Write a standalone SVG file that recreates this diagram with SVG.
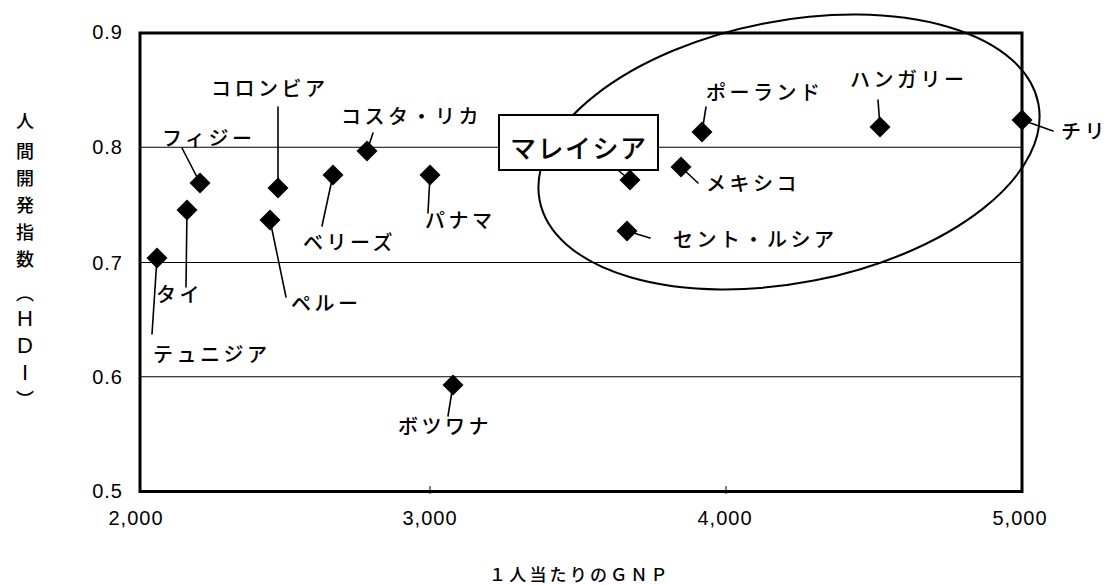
<svg xmlns="http://www.w3.org/2000/svg" width="1108" height="585" viewBox="0 0 1108 585">
<style>
.lbl{font-family:"Noto Sans CJK JP","Noto Sans CJK SC",sans-serif;font-size:20px;font-weight:500;letter-spacing:3.5px;fill:#000;dominant-baseline:central}
.num{font-family:"Liberation Sans",Arial,sans-serif;font-size:20px;letter-spacing:1px;fill:#000}
.ttl{font-family:"Noto Sans CJK JP","Noto Sans CJK SC",sans-serif;font-size:18px;font-weight:500;fill:#000;dominant-baseline:central;text-anchor:middle}
.grid{stroke:#000;stroke-width:1;fill:none}
.lead{stroke:#000;stroke-width:1.6;fill:none;stroke-linecap:round}
</style>
<defs>
<path id="dia" d="M0,-10.5 L10.5,0 L0,10.5 L-10.5,0 Z"/>
</defs>
<rect x="0" y="0" width="1108" height="585" fill="#fff"/>
<g id="plot">
<line class="grid" x1="140" y1="147.25" x2="1022" y2="147.25"/>
<line class="grid" x1="140" y1="262.5" x2="1022" y2="262.5"/>
<line class="grid" x1="140" y1="376.75" x2="1022" y2="376.75"/>
<line class="grid" x1="430" y1="486" x2="430" y2="494"/>
<line class="grid" x1="726" y1="486" x2="726" y2="494"/>
<rect x="140" y="33" width="882" height="458.5" fill="none" stroke="#000" stroke-width="3"/>
</g>
<g id="axis-labels">
<text class="num" x="123" y="39" text-anchor="end">0.9</text>
<text class="num" x="123" y="154" text-anchor="end">0.8</text>
<text class="num" x="123" y="269.5" text-anchor="end">0.7</text>
<text class="num" x="123" y="383.5" text-anchor="end">0.6</text>
<text class="num" x="123" y="498" text-anchor="end">0.5</text>
<text class="num" x="136" y="525" text-anchor="middle">2,000</text>
<text class="num" x="430" y="525" text-anchor="middle">3,000</text>
<text class="num" x="725" y="525" text-anchor="middle">4,000</text>
<text class="num" x="1020" y="525" text-anchor="middle">5,000</text>
<text class="ttl" x="489" y="573" style="text-anchor:start;letter-spacing:3.2px;font-size:17px">１人当たりのＧＮＰ</text>
<text class="ttl" x="25" y="120">人</text>
<text class="ttl" x="25" y="150">間</text>
<text class="ttl" x="25" y="177">開</text>
<text class="ttl" x="25" y="204">発</text>
<text class="ttl" x="25" y="231">指</text>
<text class="ttl" x="25" y="258">数</text>
<text class="ttl" x="25" y="292">︵</text>
<text class="num" x="25" y="326" text-anchor="middle" style="font-size:22px;letter-spacing:0">H</text>
<text class="num" x="25" y="353" text-anchor="middle" style="font-size:22px;letter-spacing:0">D</text>
<text class="num" x="25" y="380" text-anchor="middle" style="font-size:22px;letter-spacing:0">I</text>
<text class="ttl" x="25" y="398">︶</text>
</g>
<ellipse id="group-ellipse" cx="789" cy="152" rx="254" ry="131" transform="rotate(-11 789 152)" fill="none" stroke="#000" stroke-width="2"/>
<g id="connectors">
<line class="lead" x1="157" y1="258" x2="152" y2="334"/>
<line class="lead" x1="187" y1="210" x2="186" y2="287"/>
<line class="lead" x1="200" y1="183" x2="182" y2="148"/>
<line class="lead" x1="278" y1="188" x2="278" y2="107"/>
<line class="lead" x1="270" y1="220" x2="286" y2="297"/>
<line class="lead" x1="333" y1="175" x2="322" y2="226"/>
<line class="lead" x1="367" y1="151" x2="373" y2="133"/>
<line class="lead" x1="430" y1="175" x2="428" y2="213"/>
<line class="lead" x1="619" y1="171" x2="630" y2="180"/>
<line class="lead" x1="702" y1="132" x2="706" y2="107"/>
<line class="lead" x1="681" y1="167" x2="698" y2="183"/>
<line class="lead" x1="627" y1="231" x2="650" y2="238"/>
<line class="lead" x1="880" y1="127" x2="878" y2="100"/>
<line class="lead" x1="1022" y1="120" x2="1053" y2="131"/>
<line class="lead" x1="453" y1="385" x2="448" y2="416"/>
</g>
<g id="tunisia"><use href="#dia" x="157" y="258"/><text class="lbl" x="153" y="353">テュニジア</text></g>
<g id="thailand"><use href="#dia" x="187" y="210"/><text class="lbl" x="156" y="293">タイ</text></g>
<g id="fiji"><use href="#dia" x="200" y="183"/><text class="lbl" x="162" y="137">フィジー</text></g>
<g id="colombia"><use href="#dia" x="278" y="188"/><text class="lbl" x="211" y="87">コロンビア</text></g>
<g id="peru"><use href="#dia" x="270" y="220"/><text class="lbl" x="291" y="302">ペルー</text></g>
<g id="belize"><use href="#dia" x="333" y="175"/><text class="lbl" x="303" y="241">ベリーズ</text></g>
<g id="costa-rica"><use href="#dia" x="367" y="151"/><text class="lbl" x="341" y="115">コスタ・リカ</text></g>
<g id="panama"><use href="#dia" x="430" y="175"/><text class="lbl" x="425" y="219">パナマ</text></g>
<g id="malaysia"><use href="#dia" x="630" y="180"/><rect x="499" y="115" width="159" height="55" fill="#fff" stroke="#000" stroke-width="2"/><text class="lbl" x="510" y="146" style="font-size:26px;letter-spacing:1.5px">マレイシア</text></g>
<g id="poland"><use href="#dia" x="702" y="132"/><text class="lbl" x="706" y="91">ポーランド</text></g>
<g id="mexico"><use href="#dia" x="681" y="167"/><text class="lbl" x="706" y="182">メキシコ</text></g>
<g id="saint-lucia"><use href="#dia" x="627" y="231"/><text class="lbl" x="673" y="238">セント・ルシア</text></g>
<g id="hungary"><use href="#dia" x="880" y="127"/><text class="lbl" x="850" y="78">ハンガリー</text></g>
<g id="chile"><use href="#dia" x="1022" y="120"/><text class="lbl" x="1061" y="130">チリ</text></g>
<g id="botswana"><use href="#dia" x="453" y="385"/><text class="lbl" x="398" y="425">ボツワナ</text></g>
</svg>
